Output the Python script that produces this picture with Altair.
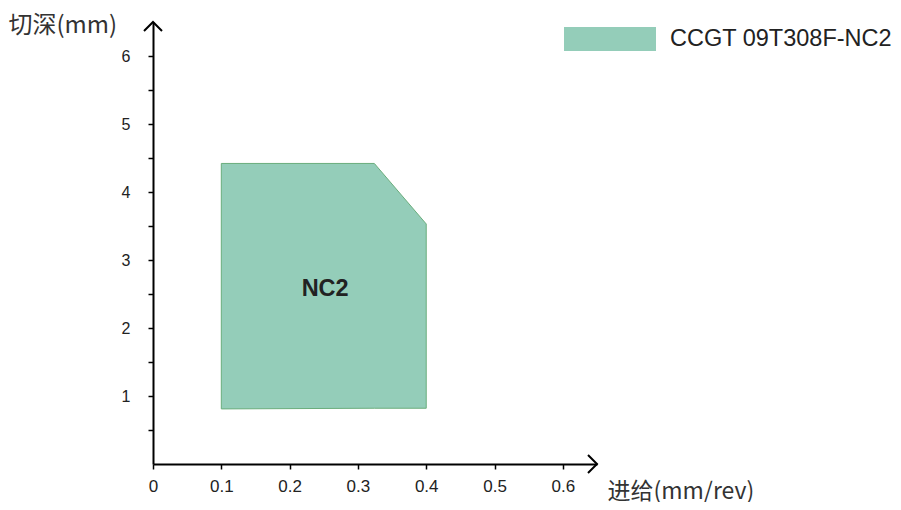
import altair as alt
import pandas as pd

# ---- data ----
feed = [0.10, 0.324, 0.40]          # 进给 (mm/rev)
depth_top = [4.42, 4.42, 3.53]      # upper boundary of the region (mm)
depth_bottom = [0.81, 0.82, 0.82]   # lower boundary of the region (mm)
series_name = "CCGT 09T308F-NC2"
region_label = ["NC2"]
label_feed = [0.252]
label_depth = [2.57]

x_ticks = [0, 0.05, 0.1, 0.15, 0.2, 0.25, 0.3, 0.35, 0.4, 0.45, 0.5, 0.55, 0.6]
y_ticks = [0.5, 1, 1.5, 2, 2.5, 3, 3.5, 4, 4.5, 5, 5.5, 6]
x_max = 0.65
y_max = 6.5

FILL = "#94CDB9"
EDGE = "#6AAD7C"
LATIN = "Liberation Sans"
CJK = "Noto Sans CJK SC"

region = pd.DataFrame({
    "feed": feed,
    "top": depth_top,
    "bottom": depth_bottom,
    "series": [series_name] * len(feed),
})
label_df = pd.DataFrame({"feed": label_feed, "depth": label_depth, "text": region_label})
x_arrow = pd.DataFrame({"feed": [x_max], "depth": [0]})
y_arrow = pd.DataFrame({"feed": [0], "depth": [y_max]})

xscale = alt.Scale(domain=[0, x_max], nice=False, zero=True)
yscale = alt.Scale(domain=[0, y_max], nice=False, zero=True)

x_axis = alt.Axis(
    values=x_ticks,
    labelExpr="round(datum.value*20) % 2 == 0 ? (datum.value == 0 ? '0' : format(datum.value, '.1f')) : ''",
    grid=False,
    domainColor="black", domainWidth=2,
    tickColor="black", tickWidth=1.5, tickSize=5,
    labelFont=LATIN, labelFontSize=17, labelColor="#222222", labelPadding=9,
    labelFlush=False, labelOverlap=False,
    title="进给(mm/rev)", titleFont=CJK, titleFontSize=23, titleFontWeight="normal",
    titleColor="#333333", titleAnchor="start", titleAlign="left", titleBaseline="alphabetic",
    titleX=454, titleY=34,
)
y_axis = alt.Axis(
    values=y_ticks,
    labelExpr="round(datum.value*2) % 2 == 0 ? format(datum.value, 'd') : ''",
    grid=False,
    domainColor="black", domainWidth=2,
    tickColor="black", tickWidth=1.5, tickSize=5,
    labelFont=LATIN, labelFontSize=16, labelColor="#222222", labelPadding=18,
    labelFlush=False, labelOverlap=False,
    title="切深(mm)", titleFont=CJK, titleFontSize=24, titleFontWeight="normal",
    titleColor="#333333", titleAngle=0, titleAlign="left", titleBaseline="middle",
    titleX=-145, titleY=3,
)

area = alt.Chart(region).mark_area(
    orient="vertical", stroke=EDGE, strokeWidth=1, opacity=1, fillOpacity=1
).encode(
    x=alt.X("feed:Q", scale=xscale, axis=x_axis),
    y=alt.Y("top:Q", scale=yscale, axis=y_axis),
    y2="bottom:Q",
    fill=alt.Fill(
        "series:N",
        scale=alt.Scale(domain=[series_name], range=[FILL]),
        legend=alt.Legend(
            title=None, orient="none", legendX=411, legendY=-29,
            symbolType="M-1,-0.26H1V0.26H-1Z", symbolSize=8464,
            symbolStrokeWidth=0, symbolOpacity=1,
            labelFont=LATIN, labelFontSize=23.5, labelColor="#222222",
            labelOffset=14, padding=0, labelLimit=400,
        ),
    ),
)

text = alt.Chart(label_df).mark_text(
    font=LATIN, fontSize=23.5, fontWeight="bold", color="#222222"
).encode(
    x=alt.X("feed:Q", scale=xscale),
    y=alt.Y("depth:Q", scale=yscale),
    text="text:N",
)

chevron = "M-1,1L0,0L1,1"
arrow_x = alt.Chart(x_arrow).mark_point(
    shape=chevron, size=324, filled=False, stroke="black", strokeWidth=2, angle=90, opacity=1
).encode(x=alt.X("feed:Q", scale=xscale), y=alt.Y("depth:Q", scale=yscale))
arrow_y = alt.Chart(y_arrow).mark_point(
    shape=chevron, size=324, filled=False, stroke="black", strokeWidth=2, opacity=1
).encode(x=alt.X("feed:Q", scale=xscale), y=alt.Y("depth:Q", scale=yscale))

chart = alt.layer(area, text, arrow_x, arrow_y).properties(
    width=444, height=442,
    autosize=alt.AutoSizeParams(type="none"),
    padding={"left": 145, "top": 14, "right": 296, "bottom": 38},
    background="white",
).configure_view(strokeWidth=0, stroke="transparent")

chart.save("out.html", embed_options={"renderer": "svg", "actions": False})
